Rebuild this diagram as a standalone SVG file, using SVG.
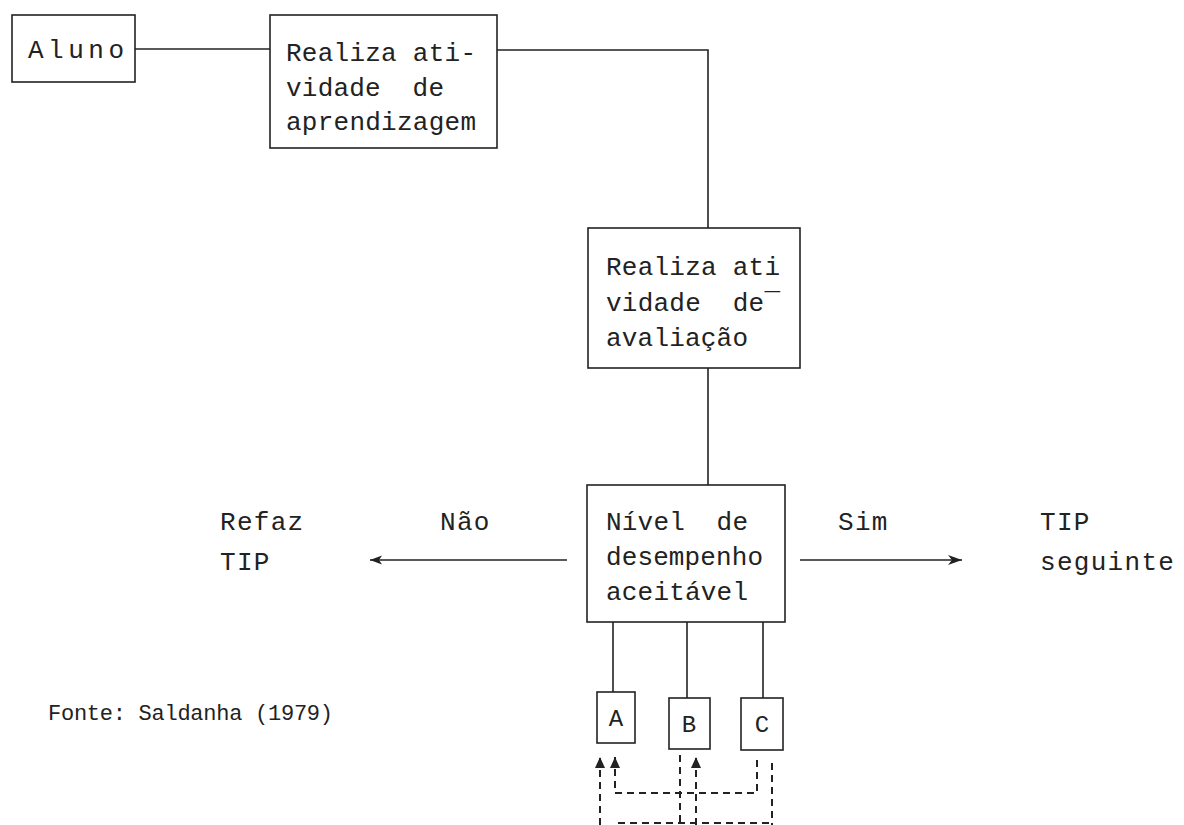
<svg xmlns="http://www.w3.org/2000/svg" width="1184" height="825" viewBox="0 0 1184 825">
<style>
text{font-family:"Liberation Mono","DejaVu Sans Mono",monospace;font-size:26px;fill:#222;white-space:pre}
.box{fill:#fff;stroke:#222;stroke-width:1.6}
.ln{stroke:#222;stroke-width:1.6;fill:none}
.ds{stroke:#222;stroke-width:2;fill:none;stroke-dasharray:7 5}
.sm{font-size:24px}
.lb{letter-spacing:1.3px}
</style>
<defs>
<marker id="ahL" markerWidth="14" markerHeight="12" refX="13" refY="6" orient="auto" markerUnits="userSpaceOnUse">
<path d="M1,1.5 L13,6 L1,10.5 L4,6 Z" fill="#222"/>
</marker>
<marker id="ahR" markerWidth="16" markerHeight="12" refX="15" refY="6" orient="auto" markerUnits="userSpaceOnUse">
<path d="M1,1 L15,6 L1,11 L5,6 Z" fill="#222"/>
</marker>
<marker id="ahU" markerWidth="12" markerHeight="12" refX="11" refY="6" orient="auto" markerUnits="userSpaceOnUse">
<path d="M0,1 L11,6 L0,11 Z" fill="#222"/>
</marker>
</defs>
<rect width="1184" height="825" fill="#fff"/>
<g id="connectors">
<line class="ln" x1="135" y1="49" x2="270" y2="49"/>
<polyline class="ln" points="497,50 708,50 708,228"/>
<line class="ln" x1="708" y1="368" x2="708" y2="485"/>
<line class="ln" x1="567" y1="560" x2="370" y2="560" marker-end="url(#ahL)"/>
<line class="ln" x1="800" y1="560" x2="962" y2="560" marker-end="url(#ahR)"/>
<line class="ln" x1="613" y1="622" x2="613" y2="692"/>
<line class="ln" x1="687" y1="622" x2="687" y2="698"/>
<line class="ln" x1="763" y1="622" x2="763" y2="698"/>
<line class="ds" x1="600" y1="825" x2="600" y2="757" marker-end="url(#ahU)"/>
<polyline class="ds" points="757,760 757,793 615,793 615,757" marker-end="url(#ahU)"/>
<line class="ds" x1="680" y1="755" x2="680" y2="825"/>
<line class="ds" x1="696" y1="825" x2="696" y2="757" marker-end="url(#ahU)"/>
<line class="ds" x1="772" y1="763" x2="772" y2="825"/>
<line class="ds" x1="618" y1="823" x2="770" y2="823"/>
</g>
<g id="aluno">
<rect class="box" x="12" y="15" width="123" height="67"/>
<text x="28" y="58" textLength="96">Aluno</text>
</g>
<g id="aprendizagem">
<rect class="box" x="270" y="15" width="227" height="133"/>
<text x="286" y="61" textLength="190">Realiza ati-</text>
<text x="286" y="96" textLength="158">vidade  de</text>
<text x="286" y="130" textLength="190">aprendizagem</text>
</g>
<g id="avaliacao">
<rect class="box" x="588" y="228" width="212" height="140"/>
<text x="606" y="275" textLength="174">Realiza ati</text>
<text x="606" y="311" textLength="174">vidade  de‾</text>
<text x="606" y="346" textLength="142">avaliação</text>
</g>
<g id="nivel">
<rect class="box" x="587" y="485" width="198" height="137"/>
<text x="606" y="530" textLength="142">Nível  de</text>
<text x="606" y="565" textLength="157">desempenho</text>
<text x="606" y="600" textLength="142">aceitável</text>
</g>
<g id="labels">
<text class="lb" x="440" y="530">Não</text>
<text class="lb" x="838" y="530">Sim</text>
<text class="lb" x="220" y="530">Refaz</text>
<text class="lb" x="220" y="570">TIP</text>
<text class="lb" x="1040" y="530">TIP</text>
<text class="lb" x="1040" y="570">seguinte</text>
<text x="48" y="720" style="font-size:22px" textLength="285">Fonte: Saldanha (1979)</text>
</g>
<g id="A"><rect class="box" x="597" y="692" width="38" height="51"/><text x="616" y="726" text-anchor="middle" class="sm">A</text></g>
<g id="B"><rect class="box" x="669" y="698" width="41" height="51"/><text x="689" y="732" text-anchor="middle" class="sm">B</text></g>
<g id="C"><rect class="box" x="741" y="698" width="42" height="52"/><text x="762" y="732" text-anchor="middle" class="sm">C</text></g>
</svg>
